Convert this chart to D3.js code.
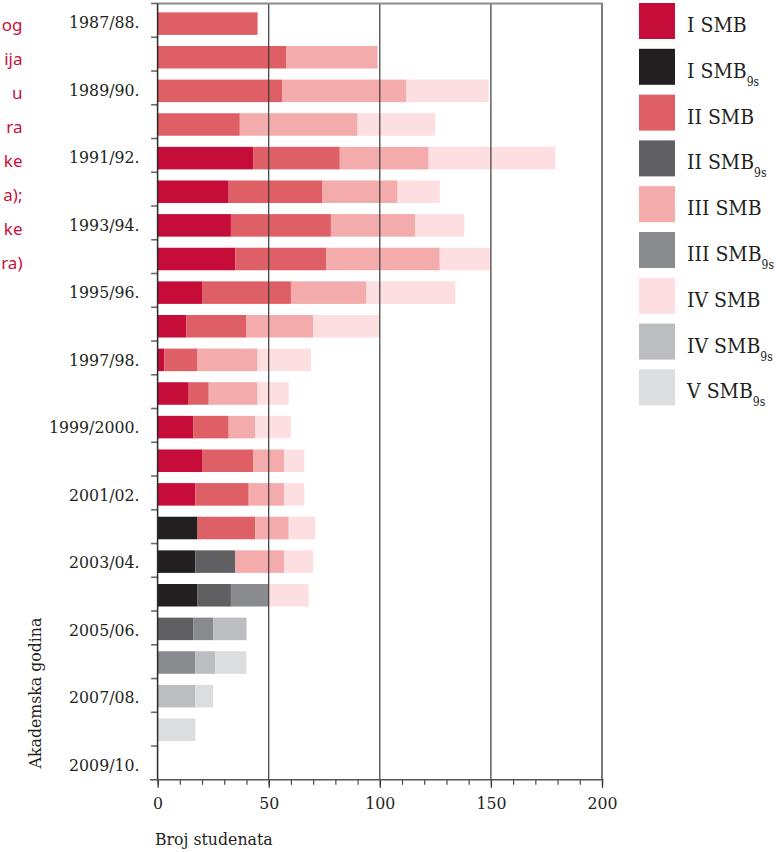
<!DOCTYPE html>
<html>
<head>
<meta charset="utf-8">
<script src="https://cdn.jsdelivr.net/npm/d3@7/dist/d3.min.js"></script>
<style>
  html, body { margin: 0; padding: 0; background: #fff; }
  svg { display: block; }
  .serif { font-family: 'DejaVu Serif Condensed', 'Liberation Serif', serif; font-stretch: condensed; }
</style>
</head>
<body>
<svg id="chart" width="776" height="852"></svg>
<script>
// ---------- DATA ----------
const categories = ["1987/88.","1988/89.","1989/90.","1990/91.","1991/92.","1992/93.","1993/94.","1994/95.",
  "1995/96.","1996/97.","1997/98.","1998/99.","1999/2000.","2000/01.","2001/02.","2002/03.","2003/04.",
  "2004/05.","2005/06.","2006/07.","2007/08.","2008/09.","2009/10."];
const labelledCategories = ["1987/88.","1989/90.","1991/92.","1993/94.","1995/96.","1997/98.","1999/2000.",
  "2001/02.","2003/04.","2005/06.","2007/08.","2009/10."];

const seriesNames = ["I SMB","I SMB9s","II SMB","II SMB9s","III SMB","III SMB9s","IV SMB","IV SMB9s","V SMB9s"];
const seriesBase = ["I SMB","I SMB","II SMB","II SMB","III SMB","III SMB","IV SMB","IV SMB","V SMB"];
const seriesSub  = ["","9s","","9s","","9s","","9s","9s"];
const seriesColors = ["#c60d3a","#231f20","#df5f66","#606062","#f4abab","#8a8b8f","#fddfe1","#bcbdc0","#dcdddf"];

const iSMB     = [0,0,0,0,43,32,33,35,20,13,3,14,16,20,17,0,0,0,0,0,0,0,0];
const iSMB9s   = [0,0,0,0,0,0,0,0,0,0,0,0,0,0,0,18,17,18,0,0,0,0,0];
const iiSMB    = [45,58,56,37,39,42,45,41,40,27,15,9,16,23,24,26,0,0,0,0,0,0,0];
const iiSMB9s  = [0,0,0,0,0,0,0,0,0,0,0,0,0,0,0,0,18,15,16,0,0,0,0];
const iiiSMB   = [0,41,56,53,40,34,38,51,34,30,27,22,12,14,16,15,22,0,0,0,0,0,0];
const iiiSMB9s = [0,0,0,0,0,0,0,0,0,0,0,0,0,0,0,0,0,17,9,17,0,0,0];
const ivSMB    = [0,0,37,35,57,19,22,23,40,30,24,14,16,9,9,12,13,18,0,0,0,0,0];
const ivSMB9s  = [0,0,0,0,0,0,0,0,0,0,0,0,0,0,0,0,0,0,15,9,17,0,0];
const vSMB9s   = [0,0,0,0,0,0,0,0,0,0,0,0,0,0,0,0,0,0,0,14,8,17,0];

const xTicksMajor = [0,50,100,150,200];
const xTicksMinor = [0,10,20,30,40,50,60,70,80,90,100,110,120,130,140,150,160,170,180,190,200];

const captionFragments = ["og","ija","u","ra","ke","a);","ke","ra)"];

const xTitle = "Broj studenata";
const yTitle = "Akademska godina";

// ---------- BUILD ----------
const seriesValues = [iSMB,iSMB9s,iiSMB,iiSMB9s,iiiSMB,iiiSMB9s,ivSMB,ivSMB9s,vSMB9s];
const table = categories.map((c,i) => {
  const row = {cat: c};
  seriesNames.forEach((s,k) => row[s] = seriesValues[k][i]);
  return row;
});
const stacked = d3.stack().keys(seriesNames)(table);

const svg = d3.select("#chart");

const x = d3.scaleLinear().domain([0,200]).range([157.6, 602]);
const yTick = d3.scaleBand().domain(categories).range([3.5, 779.8]).padding(0);
const yBar = d3.scaleBand().domain(categories).range([6.8, 780.2]).paddingInner(0.33).paddingOuter(0.165);

// bars
svg.append("g").selectAll("g").data(stacked).join("g")
  .attr("fill", (d,i) => seriesColors[i])
  .selectAll("rect").data(d => d.filter(p => p[1] - p[0] > 0)).join("rect")
  .attr("x", d => x(d[0]))
  .attr("width", d => x(d[1]) - x(d[0]))
  .attr("y", d => yBar(d.data.cat))
  .attr("height", yBar.bandwidth());

// gridlines at 50, 100, 150
svg.append("g").selectAll("line").data(xTicksMajor.filter(v => v > 0 && v < 200)).join("line")
  .attr("x1", d => x(d)).attr("x2", d => x(d))
  .attr("y1", yTick.range()[0]).attr("y2", yTick.range()[1])
  .attr("stroke", "#3a3a3a").attr("stroke-width", 1.2);

// right border and top border
svg.append("line")
  .attr("x1", x(200)).attr("x2", x(200))
  .attr("y1", yTick.range()[0]).attr("y2", yTick.range()[1])
  .attr("stroke", "#7a7a7a").attr("stroke-width", 2);
svg.append("line")
  .attr("x1", x(0)).attr("x2", x(200) + 1)
  .attr("y1", yTick.range()[0]).attr("y2", yTick.range()[0])
  .attr("stroke", "#8a8a8a").attr("stroke-width", 2);

// left y axis: ticks at band boundaries
const yAxisG = svg.append("g");
yAxisG.selectAll("line.tk").data(categories).join("line").attr("class","tk")
  .attr("x1", x(0) - 6.5).attr("x2", x(0))
  .attr("y1", d => yTick(d)).attr("y2", d => yTick(d))
  .attr("stroke", "#6a6a6a").attr("stroke-width", 1.6);
yAxisG.append("line")
  .attr("x1", x(0)).attr("x2", x(0))
  .attr("y1", yTick.range()[0]).attr("y2", yTick.range()[1])
  .attr("stroke", "#2a2a2a").attr("stroke-width", 1.5);
yAxisG.selectAll("text").data(labelledCategories).join("text")
  .attr("class", "serif")
  .attr("x", 139.5)
  .attr("y", d => yTick(d) + yTick.bandwidth()/2 + 1.5)
  .attr("dy", "0.35em")
  .attr("text-anchor", "end")
  .attr("font-size", 17.5).attr("fill", "#231f20")
  .text(d => d);

// bottom axis
const axisY = yTick.range()[1];
const minorAxis = d3.axisBottom(x).tickValues(xTicksMinor).tickSize(5).tickFormat("");
const gMinor = svg.append("g").attr("transform", `translate(0,${axisY})`).call(minorAxis);
gMinor.select(".domain").remove();
gMinor.selectAll(".tick line").attr("stroke", "#444").attr("stroke-width", 1.2);

const majorAxis = d3.axisBottom(x).tickValues(xTicksMajor).tickSize(8).tickPadding(9).tickFormat(d3.format("d"));
const gMajor = svg.append("g").attr("transform", `translate(0,${axisY})`).call(majorAxis);
gMajor.attr("font-family", null);
gMajor.select(".domain").remove();
gMajor.selectAll(".tick line").attr("stroke", "#333").attr("stroke-width", 1.3);
gMajor.selectAll(".tick text")
  .attr("class", "serif")
  .attr("font-size", 17.5).attr("fill", "#231f20");

svg.append("line")
  .attr("x1", x(0) - 7.5).attr("x2", x(200) + 1.5)
  .attr("y1", axisY).attr("y2", axisY)
  .attr("stroke", "#555").attr("stroke-width", 1.6);

// axis titles
svg.append("text")
  .attr("class", "serif")
  .attr("x", 155).attr("y", 845)
  .attr("font-size", 17.5).attr("fill", "#231f20")
  .text(xTitle);
svg.append("text")
  .attr("class", "serif")
  .attr("transform", "translate(41,693) rotate(-90)")
  .attr("text-anchor", "middle")
  .attr("font-size", 17.5).attr("fill", "#231f20")
  .text(yTitle);

// left caption fragments (line endings of a caption that runs off the page edge)
svg.append("g").selectAll("text").data(captionFragments).join("text")
  .attr("x", 22.5)
  .attr("y", (d,i) => 30.5 + i * 34.1)
  .attr("text-anchor", "end")
  .attr("font-family", "'Noto Sans', 'Open Sans', sans-serif")
  .attr("font-size", 17).attr("fill", "#c8103c")
  .text(d => d);

// legend
const leg = svg.append("g").selectAll("g").data(seriesNames).join("g")
  .attr("transform", (d,i) => `translate(639,${3 + i * 45.8})`);
leg.append("rect").attr("width", 36).attr("height", 36)
  .attr("fill", (d,i) => seriesColors[i]);
const lt = leg.append("text").attr("class", "serif").attr("x", 48).attr("y", 29)
  .attr("font-size", 21).attr("fill", "#231f20");
lt.append("tspan").text((d,i) => seriesBase[i]);
lt.append("tspan")
  .attr("font-size", 12).attr("dy", 8)
  .text((d,i) => seriesSub[i]);
</script>
</body>
</html>
